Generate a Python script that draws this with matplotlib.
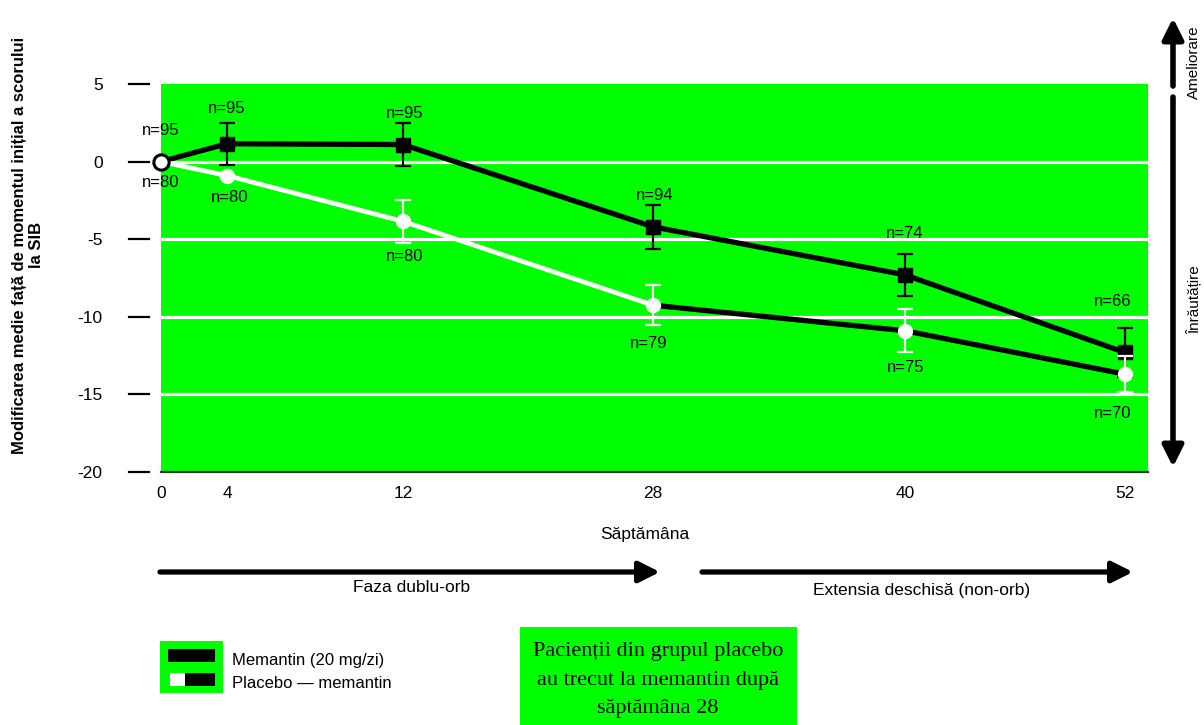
import numpy as np
import matplotlib
matplotlib.use("Agg")
import matplotlib.pyplot as plt
from matplotlib import transforms
from matplotlib.patches import Rectangle, FancyArrowPatch

plt.rcParams["font.family"] = ["Liberation Sans", "DejaVu Sans"]

# ===========================
# DATE
# ===========================
weeks = [0, 4, 12, 28, 40, 52]
week_labels = ["0", "4", "12", "28", "40", "52"]

mem_mean = [0, 1.15, 1.1, -4.2, -7.3, -12.3]
mem_err = [0, 1.35, 1.4, 1.4, 1.35, 1.6]
mem_n = [95, 95, 95, 94, 74, 66]

plc_mean = [0, -0.9, -3.85, -9.25, -10.9, -13.7]
plc_err = [0, 0, 1.4, 1.3, 1.4, 1.15]
plc_n = [80, 80, 80, 79, 75, 70]

y_ticks = [5, 0, -5, -10, -15, -20]
y_tick_labels = ["5", "0", "-5", "-10", "-15", "-20"]
grid_lines = [0, -5, -10, -15]

# pozitia fiecarei saptamani pe axa (axa originala nu e liniara)
week_px = [161, 227, 403, 653, 905, 1125]

# decalaje etichete n= (pixeli)
mem_off = [(0, 31), (0, 35), (2, 31), (2, 31), (0, 41), (-12, 51)]
plc_off = [(0, -21), (3, -22), (2, -35), (-4, -38), (1, -37), (-12, -39)]

GREEN = "#00ff00"
W, H = 1204, 725


def fwd(x):
    x = np.asarray(x, dtype=float)
    y = np.interp(x, weeks, week_px)
    s_lo = (week_px[1] - week_px[0]) / (weeks[1] - weeks[0])
    s_hi = (week_px[-1] - week_px[-2]) / (weeks[-1] - weeks[-2])
    y = np.where(x < weeks[0], week_px[0] + (x - weeks[0]) * s_lo, y)
    y = np.where(x > weeks[-1], week_px[-1] + (x - weeks[-1]) * s_hi, y)
    return y


def inv(p):
    p = np.asarray(p, dtype=float)
    x = np.interp(p, week_px, weeks)
    s_lo = (weeks[1] - weeks[0]) / (week_px[1] - week_px[0])
    s_hi = (weeks[-1] - weeks[-2]) / (week_px[-1] - week_px[-2])
    x = np.where(p < week_px[0], weeks[0] + (p - week_px[0]) * s_lo, x)
    x = np.where(p > week_px[-1], weeks[-1] + (p - week_px[-1]) * s_hi, x)
    return x


def fp(x, y):
    """pixeli (sus-stanga) -> fractiune figura"""
    return (x / W, 1 - y / H)


fig = plt.figure(figsize=(W / 100, H / 100), dpi=100)
ax = fig.add_axes([161 / W, 1 - 472 / H, (1148 - 161) / W, (472 - 84) / H])
ax.set_xscale("function", functions=(fwd, inv))
ax.set_xlim(0, 53.25)
ax.set_ylim(-20, 5)
ax.set_facecolor(GREEN)

for s in ["left", "top", "right"]:
    ax.spines[s].set_visible(False)
ax.spines["bottom"].set_color("#333333")
ax.spines["bottom"].set_linewidth(1.6)

for g in grid_lines:
    ax.axhline(g, color="white", lw=2.3, zorder=1.5)

# ===========================
# SERII
# ===========================
ax.plot(weeks, mem_mean, color="black", lw=3.8, zorder=3)
ax.errorbar(weeks[1:], mem_mean[1:], yerr=mem_err[1:], fmt="s", color="black",
            ms=10, capsize=6, elinewidth=1.6, capthick=1.6, zorder=4)

ax.plot(weeks[:4], plc_mean[:4], color="white", lw=3.4, zorder=3)
ax.plot(weeks[3:], plc_mean[3:], color="black", lw=3.8, zorder=3)
ax.errorbar(weeks[1:], plc_mean[1:], yerr=plc_err[1:], fmt="o", color="white",
            ms=10, capsize=6, elinewidth=1.6, capthick=1.6, zorder=5)

ax.plot(weeks[0], mem_mean[0], marker="o", ms=11, mfc="white", mec="black",
        mew=2.2, clip_on=False, zorder=6)

for w, m, n, off in zip(weeks, mem_mean, mem_n, mem_off):
    ax.annotate(f"n={n}", (w, m), xytext=off, textcoords="offset pixels",
                ha="center", va="center", fontsize=12, zorder=1.2)
for w, m, n, off in zip(weeks, plc_mean, plc_n, plc_off):
    ax.annotate(f"n={n}", (w, m), xytext=off, textcoords="offset pixels",
                ha="center", va="center", fontsize=12, zorder=1.2)

# ===========================
# AXE
# ===========================
ax.set_xticks(weeks)
ax.set_xticklabels(week_labels)
ax.xaxis.set_minor_locator(matplotlib.ticker.NullLocator())
ax.tick_params(axis="x", length=0, pad=10, labelsize=12.5)
ax.set_yticks(y_ticks)
ax.set_yticklabels(y_tick_labels)
ax.tick_params(axis="y", length=0, pad=42, labelsize=12.5)

tr = transforms.blended_transform_factory(ax.transAxes, ax.transData)
for t in y_ticks:
    ax.plot([-0.0324, -0.0122], [t, t], transform=tr, color="black",
            lw=1.6, clip_on=False)

fig.text(*fp(645, 534), "Săptămâna", ha="center", va="center", fontsize=12.5)

fig.text(*fp(28, 245),
         "Modificarea medie față de momentul inițial a scorului\nla SIB",
         rotation=90, ha="center", va="center", multialignment="center",
         fontsize=12, fontweight="bold", linespacing=1.2)

# sageti faze
arrow_style = "-|>,head_length=0.9,head_width=0.45"
for (x0, x1) in [(160, 660), (702, 1133)]:
    fig.add_artist(FancyArrowPatch(fp(x0, 572), fp(x1, 572), transform=fig.transFigure,
                                   arrowstyle=arrow_style, mutation_scale=14,
                                   lw=3.8, color="black", shrinkA=0, shrinkB=0))
fig.text(*fp(412, 587), "Faza dublu-orb", ha="center", va="center", fontsize=12.5)
fig.text(*fp(922, 590), "Extensia deschisă (non-orb)", ha="center", va="center",
         fontsize=12.5)

# sageti ameliorare / inrautatire
fig.add_artist(FancyArrowPatch(fp(1173, 86), fp(1173, 18), transform=fig.transFigure,
                               arrowstyle=arrow_style, mutation_scale=14,
                               lw=4, color="black", shrinkA=0, shrinkB=0))
fig.add_artist(FancyArrowPatch(fp(1173, 97), fp(1173, 467), transform=fig.transFigure,
                               arrowstyle=arrow_style, mutation_scale=14,
                               lw=4, color="black", shrinkA=0, shrinkB=0))
fig.text(*fp(1194, 62), "Ameliorare", rotation=90, ha="center", va="center", fontsize=11)
fig.text(*fp(1194, 300), "Înrăutățire", rotation=90, ha="center", va="center", fontsize=11)

# ===========================
# LEGENDA
# ===========================
def rect(x0, y0, x1, y1, color):
    fig.add_artist(Rectangle((x0 / W, 1 - y1 / H), (x1 - x0) / W, (y1 - y0) / H,
                             transform=fig.transFigure, facecolor=color,
                             edgecolor="none"))


rect(160, 641, 223, 693, GREEN)
rect(168, 649, 215, 662, "black")
rect(170, 673, 185, 686, "white")
rect(185, 673, 215, 686, "black")
fig.text(*fp(232, 660), "Memantin (20 mg/zi)", ha="left", va="center", fontsize=12)
fig.text(*fp(232, 684), "Placebo — memantin", ha="left", va="center", fontsize=12)

rect(520, 627, 797, 725, GREEN)
fig.text(*fp(658, 680),
         "Pacienții din grupul placebo\nau trecut la memantin după\nsăptămâna 28",
         ha="center", va="center", multialignment="center", fontsize=16,
         family=["Liberation Serif", "DejaVu Serif"], linespacing=1.65)

fig.savefig("out.png", dpi=100)
